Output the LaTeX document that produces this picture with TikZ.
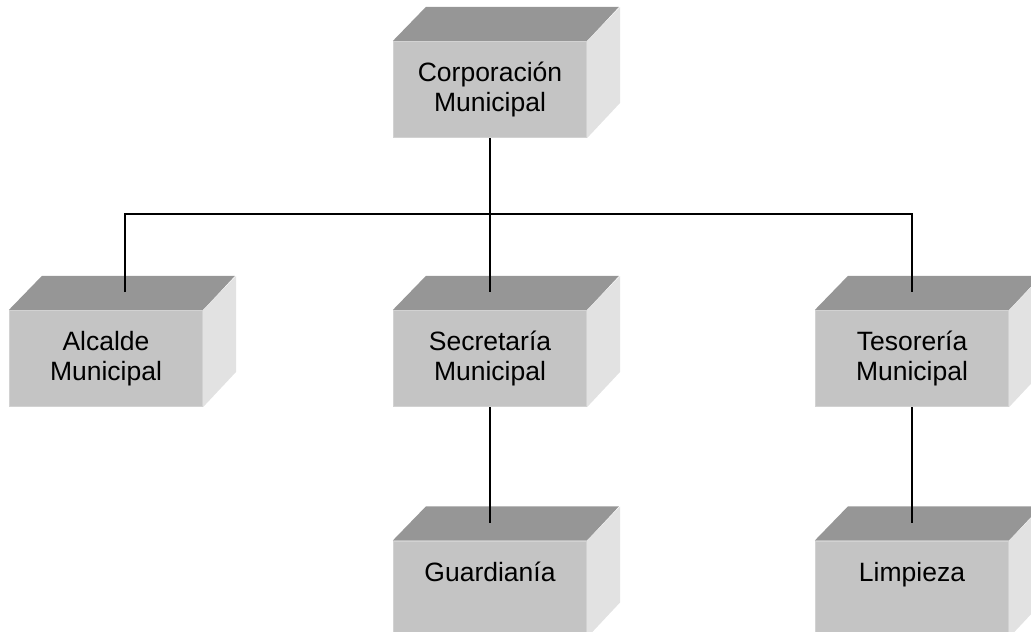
\documentclass[tikz,border=0pt]{standalone}
\usepackage{fontspec}
\setmainfont{Liberation Sans}
\usepackage{tikz}

\definecolor{techo}{HTML}{969696}
\definecolor{frente}{HTML}{C4C4C4}
\definecolor{borde}{HTML}{D2D2D2}
\definecolor{lado}{HTML}{E2E2E2}

\begin{document}
\begin{tikzpicture}[x=1bp, y=-1bp,
		caja/.style={fill=frente, draw=borde, line width=1.2bp, minimum width=193bp, minimum height=96bp,
			inner sep=0pt, align=center, font=\fontsize{26.5bp}{29.5bp}\selectfont},
		linea/.style={line width=1.8bp}]
		
		\useasboundingbox (0,0) rectangle (1031,632);
		\clip (0,0) rectangle (1031,632);
		
		% Puntos de llegada de las lineas (sobre el techo de cada caja)
		\coordinate (alc-t) at (125,292);
		\coordinate (sec-t) at (490,292);
		\coordinate (tes-t) at (912,292);
		\coordinate (gua-t) at (490,523);
		\coordinate (lim-t) at (912,523);
		\coordinate (bus) at (490,214);
		
		% Dibujar las cajas
		\foreach \n/\x/\y/\t in {corp/490/89.5/{Corporación\\Municipal},
			alc/106/358.5/{Alcalde\\Municipal},
			sec/490/358.5/{Secretaría\\Municipal},
			tes/912/358.5/{Tesorería\\Municipal},
			gua/490/589/{Guardianía\\\phantom{Municipal}},
			lim/912/589/{Limpieza\\\phantom{Municipal}}} {
			\node[caja] (\n) at (\x,\y) {\t};
			\fill[techo] (\n.north west) -- ++(33,-34) -- ++(193,0) -- (\n.north east) -- cycle;
			\fill[lado] (\n.north east) -- ++(33,-34) -- ++(0,96) -- (\n.south east) -- cycle;
		}
		
		% Lineas de la jerarquia
		\draw[linea] (corp.south) -- (bus);
		\draw[linea] (alc-t) |- (bus) -| (tes-t);
		\draw[linea] (bus) -- (sec-t);
		\draw[linea] (sec.south) -- (gua-t);
		\draw[linea] (tes.south) -- (lim-t);
		
		\end{tikzpicture}
\end{document}
